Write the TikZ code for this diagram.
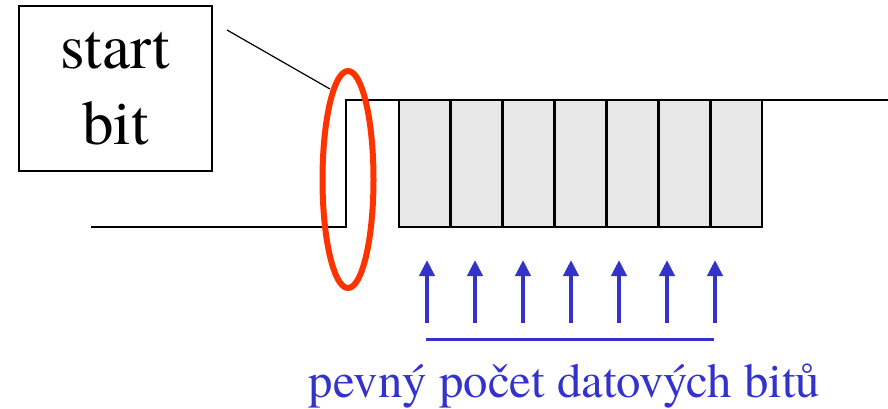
\documentclass[tikz,border=0pt]{standalone}
\usepackage{fontspec}
\newfontfamily\timesfont{texgyretermes-regular.otf}
\usetikzlibrary{arrows.meta,shapes.geometric}
\definecolor{startred}{HTML}{FF3300}
\definecolor{bitblue}{HTML}{3333CC}
\definecolor{bitfill}{HTML}{E8E8E8}

\begin{document}
\begin{tikzpicture}[x=1pt, y=-1pt,
    signal/.style={line width=2pt},
    bitbox/.style={rectangle, draw, line width=2.8pt, fill=bitfill, minimum width=51.86pt, minimum height=127pt, inner sep=0pt, outer sep=0pt},
    sample/.style={-{Triangle[width=15pt,length=16pt]}, line width=4pt, bitblue}]
                    \useasboundingbox (0,0) rectangle (888,409);

                    % Label box
                    \node[rectangle, draw, line width=1.5pt, minimum width=193pt, minimum height=165pt, align=center,
                          font=\timesfont\fontsize{63}{76}\selectfont] (label) at (115.5,88.5) {start\\bit};

                    % Data bits
                    \foreach \i in {0,...,6}
                        \node[bitbox] (b\i) at ({399+51.86*(\i+0.5)},163.5) {};

                    % Signal line
                    \coordinate (idle) at (91,227);
                    \coordinate (rise) at (346,227);
                    \coordinate (stop) at (888,99);
                    \draw[signal] (idle) -- (rise) |- (b0.north west);
                    \draw[signal] (b6.north east) -- (b6.north east -| stop);

                    % Start bit mark
                    \node[ellipse, draw=startred, line width=6pt, minimum width=51pt, minimum height=217pt] (ring) at (348,179.5) {};
                    \coordinate (callout) at (227,30);
                    \coordinate (tip) at (330,89);
                    \draw[line width=1.2pt] (callout) -- (tip);

                    % Sampling arrows
                    \foreach \i in {0,...,6} {
                        \coordinate (s\i) at ({427+48*\i},323);
                        \coordinate (t\i) at ({427+48*\i},260);
                        \draw[sample] (s\i) -- (t\i);
                    }
                    \coordinate (span0) at (426,339);
                    \coordinate (span1) at (714,339);
                    \draw[bitblue, line width=3pt] (span0) -- (span1);

                    % Caption
                    \node[anchor=base, text=bitblue, inner sep=0pt, font=\timesfont\fontsize{48.8}{58}\selectfont] (caption) at (564.5,397) {pevný počet datových bitů};
                \end{tikzpicture}
\end{document}
